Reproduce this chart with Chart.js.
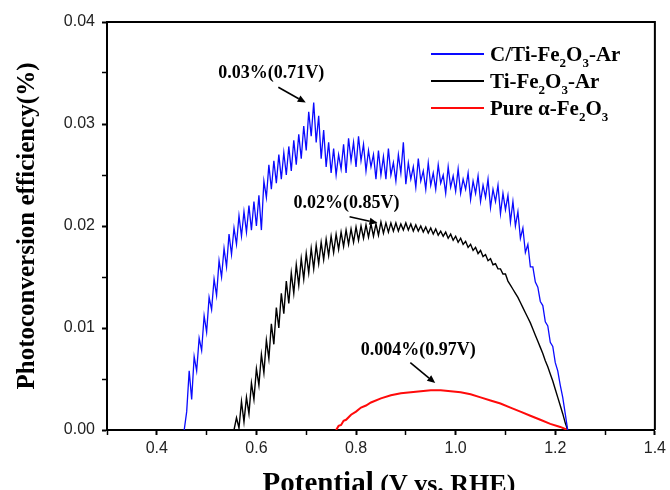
<!DOCTYPE html>
<html>
<head>
<meta charset="utf-8">
<script src="https://cdn.jsdelivr.net/npm/chart.js@4.4.1/dist/chart.umd.min.js"></script>
<style>
html,body{margin:0;padding:0;background:#fff;}
canvas{display:block;}
</style>
</head>
<body>
<canvas id="c" width="670" height="490"></canvas>
<script>
// ---------------- DATA ----------------
const seriesNames = ['C/Ti-Fe2O3-Ar', 'Ti-Fe2O3-Ar', 'Pure α-Fe2O3'];
const seriesColors = ['#0a0aff', '#000000', '#ff0a0a'];

const xTickLabels = ['0.4', '0.6', '0.8', '1.0', '1.2', '1.4'];
const yTickLabels = ['0.00', '0.01', '0.02', '0.03', '0.04'];

const blueX = [
0.455,0.460,0.465,0.470,0.475,0.480,0.485,0.490,0.495,0.500,
0.505,0.510,0.515,0.520,0.525,0.530,0.535,0.540,0.545,0.550,
0.555,0.560,0.565,0.570,0.575,0.580,0.585,0.590,0.595,0.600,
0.605,0.610,0.615,0.620,0.625,0.630,0.635,0.640,0.645,0.650,
0.655,0.660,0.665,0.670,0.675,0.680,0.685,0.690,0.695,0.700,
0.705,0.710,0.715,0.720,0.725,0.730,0.735,0.740,0.745,0.750,
0.755,0.760,0.765,0.770,0.775,0.780,0.785,0.790,0.795,0.800,
0.805,0.810,0.815,0.820,0.825,0.830,0.835,0.840,0.845,0.850,
0.855,0.860,0.865,0.870,0.875,0.880,0.885,0.890,0.895,0.900,
0.905,0.910,0.915,0.920,0.925,0.930,0.935,0.940,0.945,0.950,
0.955,0.960,0.965,0.970,0.975,0.980,0.985,0.990,0.995,1.000,
1.005,1.010,1.015,1.020,1.025,1.030,1.035,1.040,1.045,1.050,
1.055,1.060,1.065,1.070,1.075,1.080,1.085,1.090,1.095,1.100,
1.105,1.110,1.115,1.120,1.125,1.130,1.135,1.140,1.145,1.150,
1.155,1.160,1.165,1.170,1.175,1.180,1.185,1.190,1.195,1.200,
1.205,1.210,1.215,1.220,1.225];
const blueY = [
0,0.0018,0.0058,0.0030,0.0072,0.0058,0.0090,0.0078,0.0112,0.0096,
0.0130,0.0118,0.0148,0.0132,0.0166,0.0150,0.0178,0.0160,0.0192,0.0172,
0.0198,0.0182,0.0210,0.0190,0.0214,0.0194,0.0220,0.0196,0.0224,0.0200,
0.0230,0.0196,0.0244,0.0228,0.0260,0.0236,0.0264,0.0242,0.0270,0.0246,
0.0272,0.0250,0.0278,0.0254,0.0284,0.0260,0.0290,0.0266,0.0298,0.0274,
0.0312,0.0288,0.0321,0.0282,0.0308,0.0266,0.0294,0.0258,0.0282,0.0252,
0.0276,0.0250,0.0270,0.0256,0.0280,0.0252,0.0286,0.0264,0.0282,0.0258,
0.0288,0.0264,0.0280,0.0254,0.0274,0.0258,0.0270,0.0246,0.0274,0.0250,
0.0268,0.0246,0.0276,0.0250,0.0262,0.0244,0.0270,0.0252,0.0282,0.0241,
0.0262,0.0246,0.0258,0.0238,0.0266,0.0244,0.0254,0.0236,0.0262,0.0240,
0.0252,0.0236,0.0260,0.0242,0.0250,0.0232,0.0258,0.0238,0.0249,0.0234,
0.0256,0.0232,0.0246,0.0236,0.0252,0.0226,0.0244,0.0232,0.0249,0.0224,
0.0240,0.0228,0.0246,0.0218,0.0236,0.0224,0.0240,0.0212,0.0232,0.0216,
0.0230,0.0204,0.0224,0.0200,0.0214,0.0188,0.0198,0.0174,0.0182,0.0160,
0.0160,0.0145,0.0140,0.0126,0.0122,0.0106,0.0102,0.0086,0.0082,0.0066,
0.0058,0.0044,0.0032,0.0016,0];

const blackX = [
0.555,0.560,0.565,0.570,0.575,0.580,0.585,0.590,0.595,0.600,
0.605,0.610,0.615,0.620,0.625,0.630,0.635,0.640,0.645,0.650,
0.655,0.660,0.665,0.670,0.675,0.680,0.685,0.690,0.695,0.700,
0.705,0.710,0.715,0.720,0.725,0.730,0.735,0.740,0.745,0.750,
0.755,0.760,0.765,0.770,0.775,0.780,0.785,0.790,0.795,0.800,
0.805,0.810,0.815,0.820,0.825,0.830,0.835,0.840,0.845,0.850,
0.855,0.860,0.865,0.870,0.875,0.880,0.885,0.890,0.895,0.900,
0.905,0.910,0.915,0.920,0.925,0.930,0.935,0.940,0.945,0.950,
0.955,0.960,0.965,0.970,0.975,0.980,0.985,0.990,0.995,1.000,
1.005,1.010,1.015,1.020,1.025,1.030,1.035,1.040,1.045,1.050,
1.055,1.060,1.065,1.070,1.075,1.080,1.085,1.090,1.095,1.100,
1.105,1.110,1.115,1.120,1.125,1.130,1.135,1.140,1.145,1.150,
1.155,1.160,1.165,1.170,1.175,1.180,1.185,1.190,1.195,1.200,
1.205,1.210,1.215,1.220,1.225];
const blackY = [
0,0.0012,0.0002,0.0028,0.0008,0.0032,0.0016,0.0046,0.0030,0.0060,
0.0044,0.0074,0.0056,0.0088,0.0070,0.0104,0.0084,0.0120,0.0100,0.0134,
0.0114,0.0146,0.0124,0.0154,0.0134,0.0162,0.0142,0.0168,0.0148,0.0173,
0.0154,0.0178,0.0158,0.0181,0.0163,0.0184,0.0167,0.0187,0.0171,0.0190,
0.0174,0.0192,0.0177,0.0194,0.0180,0.0196,0.0182,0.0197,0.0184,0.0199,
0.0186,0.0200,0.0188,0.0201,0.0189,0.0202,0.0190,0.0202,0.0191,0.0204,
0.0193,0.0203,0.0194,0.0203,0.0195,0.0203,0.0195,0.0202,0.0196,0.0203,
0.0196,0.0202,0.0195,0.0201,0.0195,0.0200,0.0194,0.0199,0.0193,0.0198,
0.0192,0.0197,0.0191,0.0195,0.0190,0.0194,0.0188,0.0192,0.0186,0.0190,
0.0184,0.0188,0.0182,0.0185,0.0179,0.0182,0.0176,0.0179,0.0173,0.0176,
0.0170,0.0172,0.0166,0.0168,0.0162,0.0163,0.0158,0.0158,0.0153,0.0153,
0.0146,0.0142,0.0138,0.0134,0.0130,0.0125,0.0120,0.0115,0.0110,0.0105,
0.0099,0.0093,0.0087,0.0081,0.0075,0.0068,0.0062,0.0055,0.0048,0.0040,
0.0032,0.0024,0.0016,0.0007,0];

const redX = [0.760,0.765,0.770,0.775,0.780,0.790,0.800,0.810,0.820,0.830,0.850,0.870,0.890,0.910,
0.930,0.950,0.970,0.990,1.010,1.030,1.050,1.070,1.090,1.110,1.130,1.150,1.170,1.190,1.210,1.225];
const redY = [0,0.0004,0.0005,0.0009,0.0010,0.0015,0.0018,0.0022,0.0024,0.0027,0.0031,0.0034,0.0036,0.0037,
0.0038,0.0039,0.0039,0.0038,0.0037,0.0035,0.0032,0.0029,0.0026,0.0022,0.0018,0.0014,0.0010,0.0006,0.0003,0];

// annotations: label text, label anchor (data), arrow start/end (data)
const annotations = [
  {text: '0.03%(0.71V)', at: [0.630, 0.0350], from: [0.644, 0.0336], to: [0.699, 0.0321]},
  {text: '0.02%(0.85V)', at: [0.781, 0.0222], from: [0.787, 0.0209], to: [0.843, 0.0203]},
  {text: '0.004%(0.97V)', at: [0.925, 0.0078], from: [0.909, 0.0066], to: [0.959, 0.0046]}
];

// ---------------- HELPERS ----------------
const SERIF = '"Liberation Serif", "Times New Roman", serif';
const SANS = '"Liberation Sans", Arial, sans-serif';

function toPoints(xs, ys) { return xs.map((x, i) => ({x: x, y: ys[i]})); }

// split chemical formula: digits right after a letter become subscripts
function formulaParts(s) {
  const parts = [];
  const re = /([A-Za-zα-ω])(\d+)/g;
  let last = 0, m;
  while ((m = re.exec(s)) !== null) {
    const end = m.index + m[1].length;
    parts.push([s.slice(last, end), false]);
    parts.push([m[2], true]);
    last = end + m[2].length;
  }
  parts.push([s.slice(last), false]);
  return parts.filter(p => p[0].length);
}

function drawRich(ctx, x, y, text, size) {
  const parts = formulaParts(text);
  let cx = x;
  ctx.textAlign = 'left';
  ctx.textBaseline = 'alphabetic';
  for (const [t, sub] of parts) {
    ctx.font = 'bold ' + (sub ? Math.round(size * 0.62) : size) + 'px ' + SERIF;
    ctx.fillText(t, cx, y + (sub ? size * 0.28 : 0));
    cx += ctx.measureText(t).width;
  }
}

const decorPlugin = {
  id: 'decor',
  afterDraw(chart) {
    const ctx = chart.ctx;
    const a = chart.chartArea;
    const xs = chart.scales.x, ys = chart.scales.y;
    ctx.save();
    // top and right frame
    ctx.strokeStyle = '#000';
    ctx.lineWidth = 2;
    ctx.beginPath();
    ctx.moveTo(a.left, a.top);
    ctx.lineTo(a.right, a.top);
    ctx.lineTo(a.right, a.bottom);
    ctx.stroke();

    // legend
    const ds = chart.data.datasets;
    ds.forEach((d, i) => {
      const yy = 54 + i * 27;
      ctx.strokeStyle = d.borderColor;
      ctx.lineWidth = 2;
      ctx.beginPath();
      ctx.moveTo(431, yy);
      ctx.lineTo(484, yy);
      ctx.stroke();
      ctx.fillStyle = '#000';
      drawRich(ctx, 490, yy + 7, d.label, 21);
    });

    // annotations
    annotations.forEach(an => {
      ctx.fillStyle = '#000';
      ctx.font = 'bold 18px ' + SERIF;
      ctx.textAlign = 'center';
      ctx.textBaseline = 'middle';
      ctx.fillText(an.text, xs.getPixelForValue(an.at[0]), ys.getPixelForValue(an.at[1]));
      const x1 = xs.getPixelForValue(an.from[0]), y1 = ys.getPixelForValue(an.from[1]);
      const x2 = xs.getPixelForValue(an.to[0]), y2 = ys.getPixelForValue(an.to[1]);
      const ang = Math.atan2(y2 - y1, x2 - x1);
      const hl = 8, hw = 3.5;
      ctx.strokeStyle = '#000';
      ctx.lineWidth = 1.6;
      ctx.beginPath();
      ctx.moveTo(x1, y1);
      ctx.lineTo(x2 - hl * Math.cos(ang), y2 - hl * Math.sin(ang));
      ctx.stroke();
      ctx.beginPath();
      ctx.moveTo(x2, y2);
      ctx.lineTo(x2 - hl * Math.cos(ang) + hw * Math.sin(ang), y2 - hl * Math.sin(ang) - hw * Math.cos(ang));
      ctx.lineTo(x2 - hl * Math.cos(ang) - hw * Math.sin(ang), y2 - hl * Math.sin(ang) + hw * Math.cos(ang));
      ctx.closePath();
      ctx.fill();
    });

    // axis titles
    ctx.fillStyle = '#000';
    ctx.textBaseline = 'alphabetic';
    const t1 = 'Potential', t2 = ' (V vs. RHE)';
    ctx.font = 'bold 29px ' + SERIF;
    const w1 = ctx.measureText(t1).width;
    ctx.font = 'bold 26px ' + SERIF;
    const w2 = ctx.measureText(t2).width;
    const cxm = (a.left + a.right) / 2 + 8;
    let sx = cxm - (w1 + w2) / 2;
    ctx.textAlign = 'left';
    ctx.font = 'bold 29px ' + SERIF;
    ctx.fillText(t1, sx, 492);
    ctx.font = 'bold 26px ' + SERIF;
    ctx.fillText(t2, sx + w1, 492);

    ctx.translate(28, (a.top + a.bottom) / 2);
    ctx.rotate(-Math.PI / 2);
    ctx.font = 'bold 25px ' + SERIF;
    ctx.textAlign = 'center';
    ctx.textBaseline = 'middle';
    ctx.fillText('Photoconversion efficiency(%)', 0, 0);
    ctx.restore();
  }
};

const isMajorX = v => Math.round(v * 10) % 2 === 0;
const isMajorY = v => Math.round(v * 1000) % 10 === 0;

new Chart(document.getElementById('c'), {
  type: 'line',
  data: {
    datasets: [
      {label: seriesNames[0], data: toPoints(blueX, blueY), borderColor: seriesColors[0], borderWidth: 1.3},
      {label: seriesNames[1], data: toPoints(blackX, blackY), borderColor: seriesColors[1], borderWidth: 1.4},
      {label: seriesNames[2], data: toPoints(redX, redY), borderColor: seriesColors[2], borderWidth: 2}
    ]
  },
  options: {
    responsive: false,
    devicePixelRatio: 1,
    animation: false,
    elements: {point: {radius: 0}, line: {tension: 0, fill: false}},
    layout: {padding: {left: 0, right: 11, top: 22, bottom: 0}},
    plugins: {legend: {display: false}, tooltip: {enabled: false}},
    scales: {
      x: {
        type: 'linear', min: 0.3, max: 1.4,
        afterFit: s => { s.height = 60; },
        border: {display: true, color: '#000', width: 2},
        grid: {drawOnChartArea: false, drawTicks: true, tickLength: 5, tickColor: '#000',
               tickWidth: c => isMajorX(c.tick.value) ? 2 : 1.5},
        ticks: {stepSize: 0.1, autoSkip: false, maxRotation: 0, padding: 4, color: '#222',
                font: {family: SANS, size: 16},
                callback: v => { const s = (+v).toFixed(1); return isMajorX(v) && xTickLabels.includes(s) ? s : ''; }}
      },
      y: {
        type: 'linear', min: 0, max: 0.04,
        afterFit: s => { s.width = 107; },
        border: {display: true, color: '#000', width: 2},
        grid: {drawOnChartArea: false, drawTicks: true, tickLength: 5, tickColor: '#000',
               tickWidth: c => isMajorY(c.tick.value) ? 2 : 1.5},
        ticks: {stepSize: 0.005, autoSkip: false, padding: 7, color: '#222',
                font: {family: SANS, size: 16},
                callback: v => { const s = (+v).toFixed(2); return isMajorY(v) && yTickLabels.includes(s) ? s : ''; }}
      }
    }
  },
  plugins: [decorPlugin]
});
</script>
</body>
</html>
